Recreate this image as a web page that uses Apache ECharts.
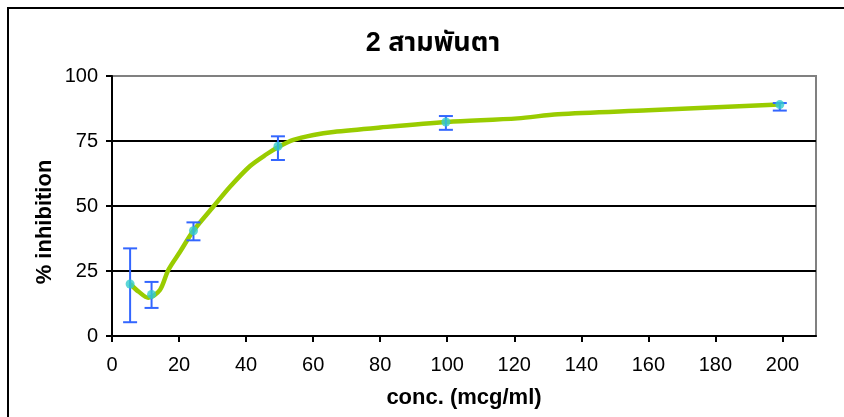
<!DOCTYPE html>
<html>
<head>
<meta charset="utf-8">
<script src="https://cdn.jsdelivr.net/npm/echarts@6/dist/echarts.min.js"></script>
<style>
html,body{margin:0;padding:0;background:#fff;}
#chart{width:844px;height:417px;}
</style>
</head>
<body>
<div id="chart"></div>
<script>
// Measured points
const concValues = [5.4, 11.8, 24.3, 49.5, 99.6, 199.2];
const inhibitionValues = [20, 16, 40.5, 73, 82.3, 89];
const errLowValues = [5.3, 10.8, 36.8, 67.7, 79.3, 86.7];
const errHighValues = [33.7, 20.8, 43.7, 76.8, 84.6, 89.6];
// Smoothed curve
const curveX = [5.4, 8, 10.8, 14.3, 16.8, 20.3, 24.3, 30.2, 35.2, 41.2, 46.2, 49.5, 54.1, 60.1, 66, 80, 100, 121, 133, 160, 199];
const curveY = [20, 17, 14.7, 17.7, 25.4, 32.4, 40.5, 49.7, 57.4, 65.4, 70, 72.6, 75.4, 77.3, 78.5, 80.2, 82.3, 83.7, 85.3, 86.8, 89];
const xTicks = [0, 20, 40, 60, 80, 100, 120, 140, 160, 180, 200];
const yTicks = [0, 25, 50, 75, 100];

const FONT = "'Liberation Sans', Arial, 'Noto Sans Thai', 'Noto Sans', sans-serif";

const chart = echarts.init(document.getElementById('chart'), null, {renderer: 'canvas'});

const errData = concValues.map((x, i) => [x, errLowValues[i], errHighValues[i]]);
const pointData = concValues.map((x, i) => [x, inhibitionValues[i]]);
const curveData = curveX.map((x, i) => [x, curveY[i]]);

chart.setOption({
  animation: false,
  backgroundColor: '#fff',
  title: {
    text: '2 สามพันตา',
    left: 428,
    textAlign: 'center',
    top: 25,
    textStyle: {fontFamily: FONT, fontSize: 27, fontWeight: 'bold', color: '#000'}
  },
  graphic: [{
    type: 'rect',
    shape: {x: 8, y: 8, width: 900, height: 500},
    style: {fill: 'none', stroke: '#000', lineWidth: 2},
    silent: true, z: -1
  }, {
    type: 'text',
    x: 45, y: 222, rotation: Math.PI / 2,
    style: {text: '% inhibition', font: "bold 22px 'Liberation Sans', Arial, sans-serif", fill: '#000', align: 'center', verticalAlign: 'middle'},
    silent: true
  }],
  grid: {left: 112, top: 76, right: 28, bottom: 81, show: true, borderColor: '#808080', borderWidth: 2, backgroundColor: 'transparent'},
  xAxis: {
    type: 'value', min: 0, max: 210, interval: 20,
    name: 'conc. (mcg/ml)', nameLocation: 'middle', nameGap: 51,
    nameTextStyle: {fontFamily: FONT, fontSize: 22, fontWeight: 'bold', color: '#000'},
    axisLine: {show: true, onZero: false, lineStyle: {color: '#000', width: 2}},
    axisTick: {show: true, length: 6, lineStyle: {color: '#000', width: 2}, customValues: xTicks},
    axisLabel: {fontFamily: FONT, fontSize: 20, color: '#000', margin: 19, customValues: xTicks},
    splitLine: {show: false}
  },
  yAxis: {
    type: 'value', min: 0, max: 100, interval: 25,
    axisLine: {show: true, lineStyle: {color: '#000', width: 2}},
    axisTick: {show: true, length: 6, lineStyle: {color: '#000', width: 2}},
    axisLabel: {fontFamily: FONT, fontSize: 20, color: '#000', margin: 14, customValues: yTicks},
    splitLine: {show: true, lineStyle: {color: ['#000', '#000', '#000', '#000', '#808080'], width: 2}}
  },
  series: [
    {
      type: 'line', data: curveData, smooth: 0.3, showSymbol: false, symbol: 'none',
      lineStyle: {color: '#99CC00', width: 4.5}, z: 2
    },
    {
      type: 'custom', data: errData, z: 3,
      renderItem: function (params, api) {
        const x = api.value(0);
        const lo = api.coord([x, api.value(1)]);
        const hi = api.coord([x, api.value(2)]);
        const hw = 7;
        const st = {stroke: '#3366FF', lineWidth: 2};
        return {
          type: 'group',
          children: [
            {type: 'line', shape: {x1: lo[0], y1: lo[1], x2: hi[0], y2: hi[1]}, style: st},
            {type: 'line', shape: {x1: lo[0] - hw, y1: lo[1], x2: lo[0] + hw, y2: lo[1]}, style: st},
            {type: 'line', shape: {x1: hi[0] - hw, y1: hi[1], x2: hi[0] + hw, y2: hi[1]}, style: st}
          ]
        };
      }
    },
    {
      type: 'scatter', data: pointData, symbol: 'circle', symbolSize: 9,
      itemStyle: {color: '#33CCCC'}, z: 4
    }
  ]
});
</script>
</body>
</html>
